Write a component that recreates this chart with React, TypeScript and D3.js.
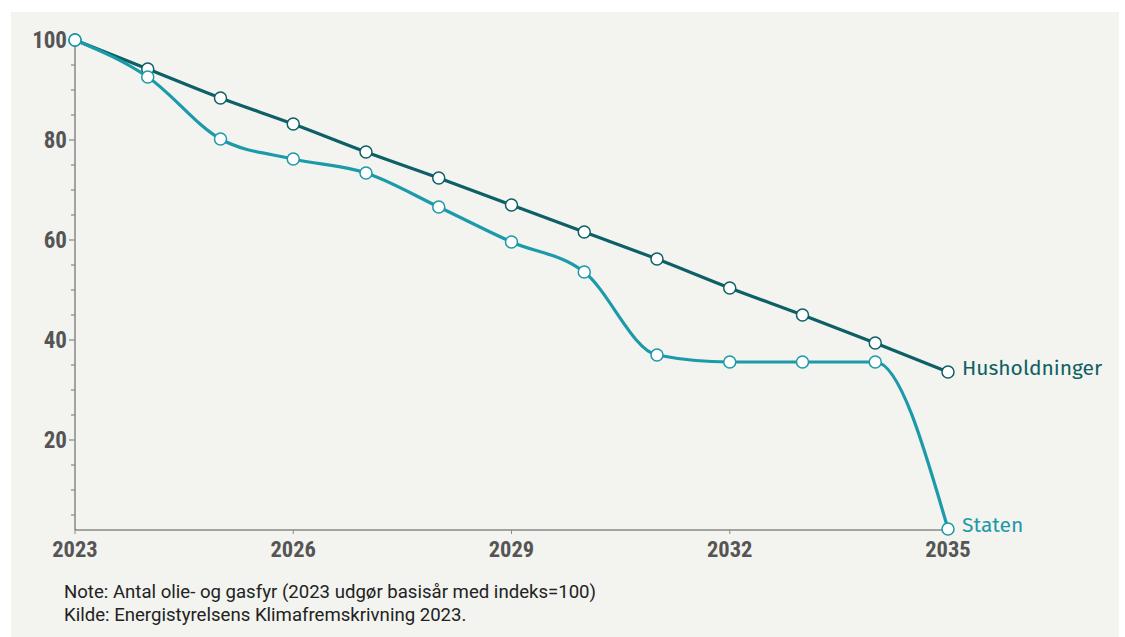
import React, { useEffect, useRef } from 'react';
import * as d3 from 'd3';

const years = [2023, 2024, 2025, 2026, 2027, 2028, 2029, 2030, 2031, 2032, 2033, 2034, 2035];
const husholdninger = [100, 94.2, 88.4, 83.2, 77.6, 72.4, 67, 61.6, 56.2, 50.4, 45, 39.4, 33.6];
const staten = [100, 92.6, 80.2, 76.2, 73.4, 66.6, 59.6, 53.6, 37, 35.6, 35.6, 35.6, 2.2];
const xTicks = [2023, 2026, 2029, 2032, 2035];
const yTicks = [20, 40, 60, 80, 100];
const yMinor = d3.range(5, 101, 5);

const App: React.FC = () => {
  const ref = useRef<SVGSVGElement | null>(null);

  useEffect(() => {
    if (!ref.current) return;
    const width = 1125;
    const height = 637;
    const svg = d3.select(ref.current).attr("width", width).attr("height", height);
    svg.selectAll("*").remove();

    svg.append("rect")
      .attr("x", 11).attr("y", 12)
      .attr("width", 1108).attr("height", 625)
      .attr("fill", "#f3f3ef");

    const x = d3.scaleLinear().domain([2023, 2035]).range([75, 948]);
    const y = d3.scaleLinear().domain([2, 100]).range([530, 40]);

    const tickFont = "'Roboto Condensed', 'Liberation Sans Narrow', 'DejaVu Sans Condensed', sans-serif";

    // y axis
    const yAxis = svg.append("g");
    yAxis.append("line")
      .attr("x1", x(2023)).attr("x2", x(2023))
      .attr("y1", y(100)).attr("y2", y(2))
      .attr("stroke", "#888").attr("stroke-width", 1.5);
    yAxis.selectAll("line.minor")
      .data(yMinor)
      .enter().append("line")
      .attr("class", "minor")
      .attr("x1", d => x(2023) - (d % 20 === 0 ? 6 : 4))
      .attr("x2", x(2023))
      .attr("y1", d => y(d)).attr("y2", d => y(d))
      .attr("stroke", "#888").attr("stroke-width", 1.2);
    yAxis.selectAll("text")
      .data(yTicks)
      .enter().append("text")
      .attr("x", x(2023) - 8)
      .attr("y", d => y(d))
      .attr("dy", "0.36em")
      .attr("text-anchor", "end")
      .attr("font-family", tickFont)
      .attr("font-weight", "bold")
      .attr("font-size", 23)
      .attr("fill", "#555")
      .text(d => d);

    // x axis
    const xAxis = svg.append("g");
    xAxis.append("line")
      .attr("x1", x(2023)).attr("x2", x(2035))
      .attr("y1", y(2)).attr("y2", y(2))
      .attr("stroke", "#555").attr("stroke-width", 1);
    xAxis.selectAll("line.tick")
      .data(xTicks)
      .enter().append("line")
      .attr("class", "tick")
      .attr("x1", d => x(d)).attr("x2", d => x(d))
      .attr("y1", y(2)).attr("y2", y(2) + 4)
      .attr("stroke", "#888");
    xAxis.selectAll("text")
      .data(xTicks)
      .enter().append("text")
      .attr("x", d => x(d))
      .attr("y", 557)
      .attr("text-anchor", "middle")
      .attr("font-family", tickFont)
      .attr("font-weight", "bold")
      .attr("font-size", 22.5)
      .attr("fill", "#555")
      .text(d => d);

    const series = [
      { name: "Husholdninger", values: husholdninger, color: "#0e5f66" },
      { name: "Staten", values: staten, color: "#1b9aaa" },
    ];

    const line = d3.line<number>()
      .x((d, i) => x(years[i]))
      .y(d => y(d))
      .curve(d3.curveMonotoneX);

    series.forEach(s => {
      const g = svg.append("g");
      g.append("path")
        .attr("d", line(s.values))
        .attr("fill", "none")
        .attr("stroke", s.color)
        .attr("stroke-width", 3.2);
      g.selectAll("circle")
        .data(s.values)
        .enter().append("circle")
        .attr("cx", (d, i) => x(years[i]))
        .attr("cy", d => y(d))
        .attr("r", 6)
        .attr("fill", "#fff")
        .attr("stroke", s.color)
        .attr("stroke-width", 1.5);
      const last = s.values[s.values.length - 1];
      g.append("text")
        .attr("x", x(2035) + 14)
        .attr("y", y(last))
        .attr("dy", "0.12em")
        .attr("font-family", "'Fira Sans', 'Open Sans', sans-serif")
        .attr("font-size", 21)
        .attr("fill", s.color)
        .text(s.name);
    });

    const notes = [
      "Note: Antal olie- og gasfyr (2023 udgør basisår med indeks=100)",
      "Kilde: Energistyrelsens Klimafremskrivning 2023.",
    ];
    svg.selectAll("text.note")
      .data(notes)
      .enter().append("text")
      .attr("class", "note")
      .attr("x", 64)
      .attr("y", (d, i) => 598 + i * 23)
      .attr("font-family", "Roboto, sans-serif")
      .attr("font-size", 18.6)
      .attr("fill", "#222")
      .text(d => d);
  }, []);

  return <svg ref={ref} style={{ position: "absolute", left: 0, top: 0 }}></svg>;
};

export default App;
